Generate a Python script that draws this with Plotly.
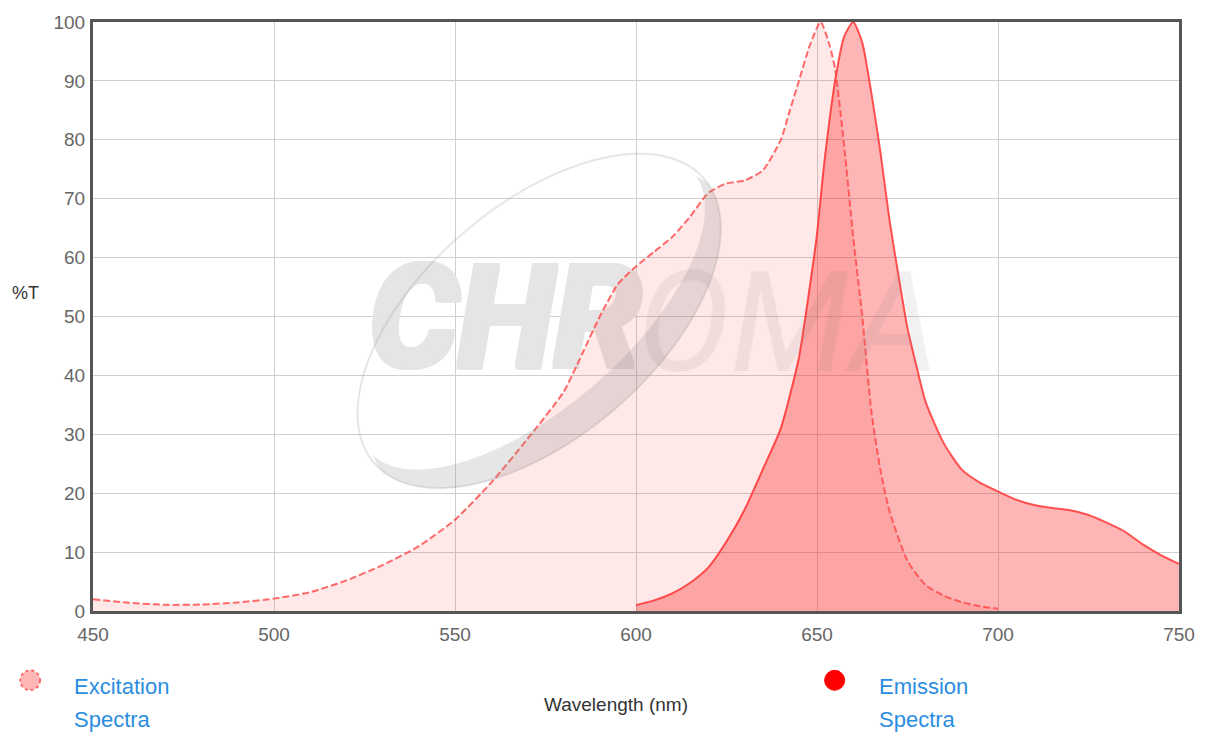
import numpy as np
import plotly.graph_objects as go

# ---------------- data ----------------
ex_wavelength = [450, 460, 470, 480, 490, 500, 510, 520, 530, 540, 550, 560, 570, 580,
                 585, 590, 595, 600, 605, 610, 615, 620, 625, 630, 635, 640, 642.5, 645,
                 648, 651, 653.5, 655, 657.5, 660, 662.5, 665, 667.5, 670, 675, 680,
                 685, 690, 695, 700]
ex_value = [2.0, 1.4, 1.05, 1.1, 1.45, 2.1, 3.2, 5.2, 7.8, 11.0, 15.5, 21.8, 29.2, 37.2,
            43.5, 50.0, 55.5, 58.5, 61.0, 63.5, 67.0, 71.0, 72.6, 73.1, 74.8, 80.0, 85.0, 90.0,
            96.0, 100.0, 96.0, 92.0, 79.0, 63.5, 50.0, 34.0, 24.0, 17.0, 8.5, 4.4,
            2.6, 1.5, 0.8, 0.4]

em_wavelength = [600, 605, 610, 615, 620, 625, 630, 635, 640, 645, 648, 650, 652, 655,
                 657.5, 660, 662.5, 665, 667.5, 670, 672.5, 675, 677.5, 680, 685, 690,
                 695, 700, 705, 710, 715, 720, 725, 730, 735, 740, 745, 750]
em_value = [1.0, 1.8, 3.0, 4.8, 7.4, 11.8, 17.2, 24.0, 31.0, 43.0, 55.0, 64.0, 76.0, 90.0,
            97.5, 100.0, 96.5, 88.0, 78.0, 66.5, 57.0, 48.0, 41.5, 35.5, 28.5, 24.0,
            21.8, 20.3, 18.9, 18.0, 17.5, 17.1, 16.3, 15.0, 13.5, 11.3, 9.5, 8.0]

x_ticks = [450, 500, 550, 600, 650, 700, 750]
y_ticks = [0, 10, 20, 30, 40, 50, 60, 70, 80, 90, 100]

series_names = ["Excitation<br>Spectra", "Emission<br>Spectra"]

# ---------------- layout geometry ----------------
W, H = 1207, 733
L, R, T, B = 93, 26, 16, 122
PW, PH = W - L - R, H - T - B


def xp(px):
    return (px - L) / PW


def yp(py):
    return (H - B - py) / PH


def xd(px):  # pixel -> wavelength (decoration placement only)
    return 450 + xp(px) * 300


def yd(py):
    return yp(py) * 100


FONT = "Liberation Sans, Arial, sans-serif"
WM_FONT = "Roboto, Inter, Liberation Sans, sans-serif"
WM_SOLID = "#e5e5e5"

fig = go.Figure()

# ---- watermark text "CHR" (decoration, drawn beneath the spectra) ----
sh = ", ".join(f"{dx}px {dy}px 0 {WM_SOLID}" for dx in (-3, -1.5, 0, 1.5, 3) for dy in (-3, -1.5, 0, 1.5, 3))
fig.add_trace(go.Scatter(
    x=[xd(642)], y=[yd(328)], mode="text", text=["<i>CHR</i>"], textposition="middle left",
    textfont=dict(family=WM_FONT, size=140, color=WM_SOLID, style="italic", weight="bold", shadow=sh),
    hoverinfo="skip", showlegend=False))

fig.add_trace(go.Scatter(
    x=em_wavelength, y=em_value, mode="lines", fill="tozeroy",
    line=dict(color="rgba(255,55,55,0.85)", width=2, shape="spline", smoothing=0.6),
    fillcolor="rgba(250,30,30,0.33)", name="Emission Spectra", hoverinfo="x+y"))

fig.add_trace(go.Scatter(
    x=ex_wavelength, y=ex_value, mode="lines", fill="tozeroy",
    line=dict(color="rgba(255,70,70,0.8)", width=2, dash="7px,3px", shape="spline", smoothing=0.6),
    fillcolor="rgba(255,0,0,0.09)", name="Excitation Spectra", hoverinfo="x+y"))

shapes = []
annotations = []

# ---- watermark swoosh (decoration) ----
c = np.array([540.0, 318.0])
a_ax, b_ax = 219.0, 117.0
u = np.array([0.753, -0.658])
v = np.array([0.658, 0.753])
wm = "rgba(140,140,140,0.22)"


def ell(t, cen, a, b):
    return cen + a * np.cos(t) * u + b * np.sin(t) * v


def to_path(pts, close=False):
    s = "M " + " L ".join(f"{xp(p[0]):.5f},{yp(p[1]):.5f}" for p in pts)
    return s + (" Z" if close else "")


ts = np.linspace(0, 2 * np.pi, 120)
outer = [ell(t, c, a_ax, b_ax) for t in ts]
shapes.append(dict(type="path", xref="paper", yref="paper", path=to_path(outer, True),
                   line=dict(color=wm, width=2), fillcolor="rgba(0,0,0,0)"))
t1 = np.linspace(0.05, np.pi - 0.05, 80)
outer_half = [ell(t, c, a_ax, b_ax) for t in t1]
inner_half = [ell(t, c - 12 * v, a_ax - 4, b_ax - 20) for t in t1[::-1]]
shapes.append(dict(type="path", xref="paper", yref="paper",
                   path=to_path(outer_half + inner_half, True),
                   line=dict(width=0), fillcolor=wm))

annotations.append(dict(x=xp(636), y=yp(320), xref="paper", yref="paper", xanchor="left",
                        yanchor="middle", showarrow=False, text="<i>OMA</i>",
                        font=dict(family=WM_FONT, size=140, color="rgba(140,140,140,0.05)", style="italic",
                                  shadow="1px 0 0 rgba(150,150,150,0.4), -1px 0 0 rgba(150,150,150,0.4), 0 1px 0 rgba(150,150,150,0.4), 0 -1px 0 rgba(150,150,150,0.4)")))

# ---- axis titles ----
annotations.append(dict(x=xp(25), y=yp(290), xref="paper", yref="paper", showarrow=False,
                        xanchor="center", yanchor="middle",
                        text="%T", font=dict(family=FONT, size=18, color="#333")))
annotations.append(dict(x=xp(617), y=yp(705), xref="paper", yref="paper", showarrow=False,
                        xanchor="center", yanchor="middle",
                        text="Wavelength (nm)", font=dict(family=FONT, size=19, color="#333")))

# ---- legend (custom) ----
legend_items = [
    (series_names[0], 30, 72, "rgba(255,120,120,0.55)", dict(color="rgba(255,60,60,0.9)", width=1.5, dash="dot")),
    (series_names[1], 836, 878, "#ff0000", dict(color="#ff0000", width=1)),
]
for text, mx, tx, fcol, lcol in legend_items:
    shapes.append(dict(type="circle", xref="paper", yref="paper", xsizemode="pixel",
                       ysizemode="pixel", xanchor=xp(mx), yanchor=yp(681),
                       x0=-10, x1=10, y0=-10, y1=10, fillcolor=fcol, line=lcol))
    l1, l2 = text.split("<br>")
    annotations.append(dict(x=xp(tx), y=yp(687), xref="paper", yref="paper", xanchor="left",
                            yanchor="middle", showarrow=False, text=l1,
                            font=dict(family=FONT, size=22, color="#2b8de0")))
    annotations.append(dict(x=xp(tx), y=yp(721), xref="paper", yref="paper", xanchor="left",
                            yanchor="middle", showarrow=False, text=l2,
                            font=dict(family=FONT, size=22, color="#2b8de0")))

fig.update_layout(
    width=W, height=H,
    margin=dict(l=L, r=R, t=T, b=B),
    paper_bgcolor="white", plot_bgcolor="white",
    showlegend=False,
    shapes=shapes, annotations=annotations,
    font=dict(family=FONT),
)
fig.update_xaxes(range=[450, 750], tickvals=x_ticks, ticktext=[str(t) for t in x_ticks],
                 showgrid=True, gridcolor="#cfcfcf", gridwidth=1,
                 showline=True, linecolor="#555", linewidth=3, mirror=True,
                 ticks="outside", ticklen=4, tickcolor="rgba(0,0,0,0)",
                 tickfont=dict(family=FONT, size=19, color="#666"), zeroline=False)
fig.update_yaxes(range=[0, 100], tickvals=y_ticks, ticktext=[str(t) for t in y_ticks],
                 showgrid=True, gridcolor="#cfcfcf", gridwidth=1,
                 showline=True, linecolor="#555", linewidth=3, mirror=True,
                 ticks="outside", ticklen=1, tickcolor="rgba(0,0,0,0)",
                 tickfont=dict(family=FONT, size=19, color="#666"), zeroline=False)

fig.write_html("out.html")
